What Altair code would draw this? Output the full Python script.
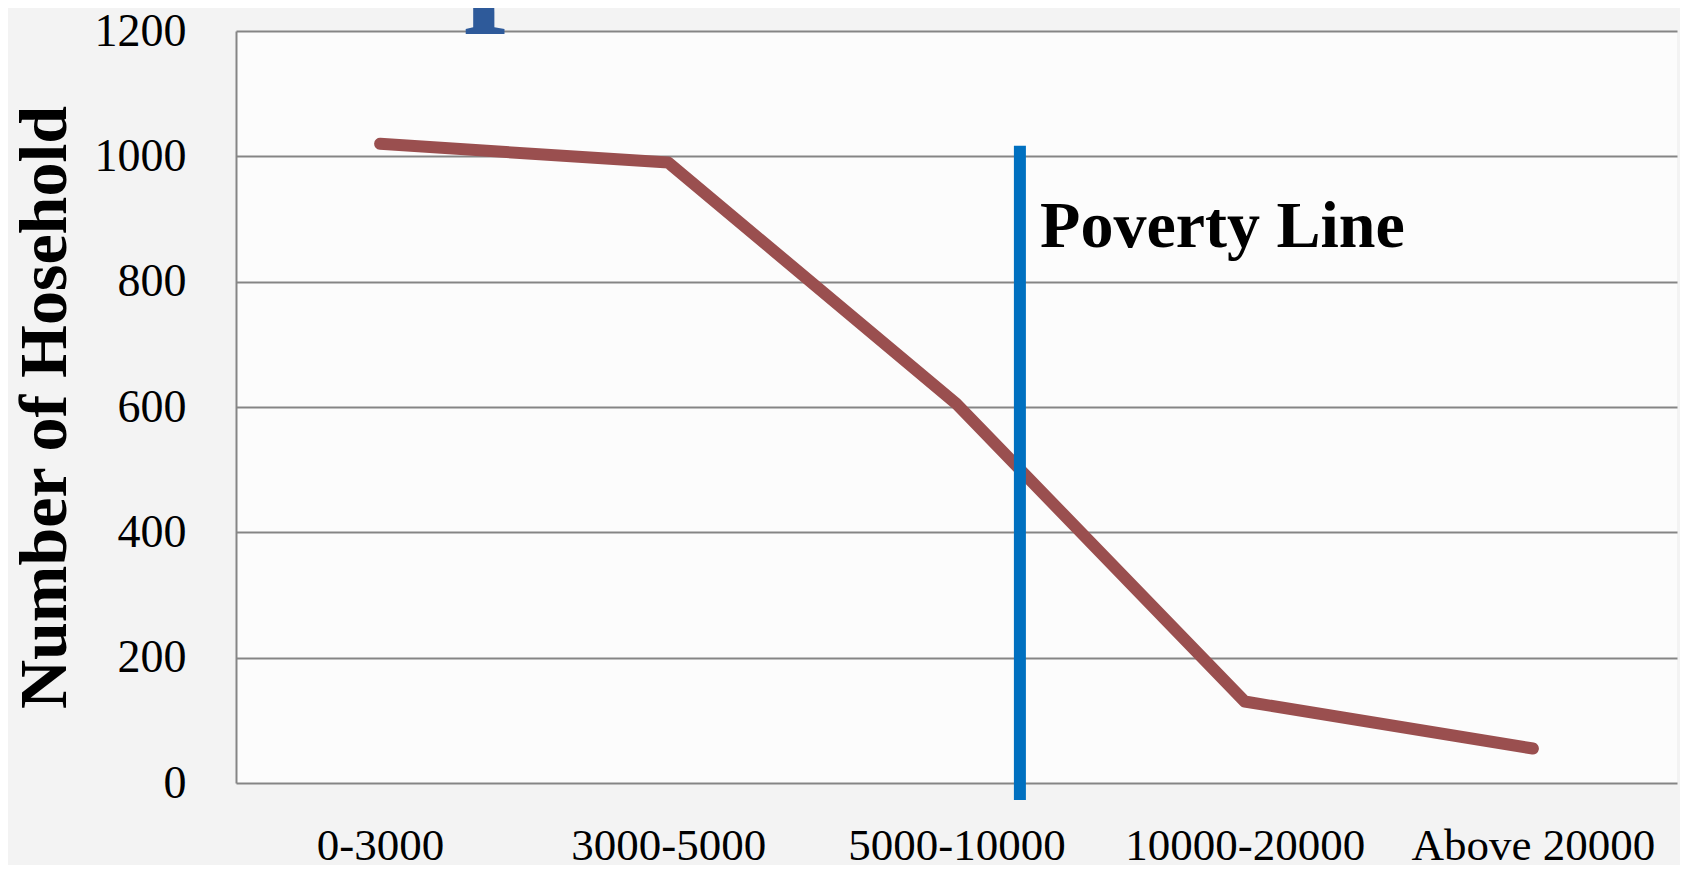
import altair as alt
import pandas as pd

categories = ["0-3000", "3000-5000", "5000-10000", "10000-20000", "Above 20000"]
households = [1020, 990, 605, 130, 55]

poverty_x = 2.22
poverty_y_low = -27
poverty_y_high = 1017
poverty_label = "Poverty Line"
poverty_label_x = 2.29
poverty_label_y = 856

title_text = "per Month"
title_x = 0.29
title_y = 1246

FONT = "Liberation Serif"

df = pd.DataFrame({"idx": list(range(len(categories))), "cat": categories, "n": households})
pov = pd.DataFrame({"x": [poverty_x], "y1": [poverty_y_low], "y2": [poverty_y_high]})
lab = pd.DataFrame({"x": [poverty_label_x], "y": [poverty_label_y], "t": [poverty_label]})
ttl = pd.DataFrame({"x": [title_x], "y": [title_y], "t": [title_text]})

label_expr = "[" + ",".join(f"'{c}'" for c in categories) + "][datum.value]"

xscale = alt.Scale(domain=[-0.5, len(categories) - 0.5], nice=False, zero=False)
yscale = alt.Scale(domain=[0, 1200], nice=False)

xaxis = alt.Axis(
    values=list(range(len(categories))),
    labelExpr=label_expr,
    title=None,
    grid=False,
    ticks=False,
    domain=False,
    labelFont=FONT,
    labelFontSize=45,
    labelColor="black",
    labelPadding=40,
    labelFlush=False,
    labelOverlap=False,
    labelLimit=1000,
)
yaxis = alt.Axis(
    values=[0, 200, 400, 600, 800, 1000, 1200],
    format="d",
    title="Number of Hosehold",
    titleFont=FONT,
    titleFontSize=68,
    titleFontWeight="bold",
    titleColor="black",
    titleX=-191,
    titleY=376,
    titleAngle=270,
    titleAlign="center",
    titleBaseline="middle",
    grid=True,
    gridColor="#858585",
    gridWidth=2,
    ticks=False,
    domain=True,
    domainColor="#858585",
    domainWidth=2,
    labelFont=FONT,
    labelFontSize=46,
    labelColor="black",
    labelPadding=50,
)

line = alt.Chart(df).mark_line(
    color="#9A4F4F", strokeWidth=12, strokeCap="round", strokeJoin="round"
).encode(
    x=alt.X("idx:Q", scale=xscale, axis=xaxis),
    y=alt.Y("n:Q", scale=yscale, axis=yaxis),
)

rule = alt.Chart(pov).mark_rule(color="#0070C0", strokeWidth=12, clip=False).encode(
    x=alt.X("x:Q", scale=xscale),
    y=alt.Y("y1:Q", scale=yscale),
    y2="y2:Q",
)

label = alt.Chart(lab).mark_text(
    font=FONT, fontSize=66, fontWeight="bold", color="black",
    align="left", baseline="alphabetic", clip=False,
).encode(
    x=alt.X("x:Q", scale=xscale),
    y=alt.Y("y:Q", scale=yscale),
    text="t:N",
)

title = alt.Chart(ttl).mark_text(
    font=FONT, fontSize=150, fontWeight="bold", color="#2E5A9A",
    align="left", baseline="alphabetic", clip=False,
).encode(
    x=alt.X("x:Q", scale=xscale),
    y=alt.Y("y:Q", scale=yscale),
    text="t:N",
)

chart = alt.layer(line, rule, label, title).properties(
    width=1441,
    height=752,
    autosize=alt.AutoSizeParams(type="none"),
    padding={"left": 228, "top": 23, "right": 3, "bottom": 82},
    background="#f3f3f3",
).configure_view(stroke=None, fill="#fcfcfc")

chart.save("out.html", embed_options={"renderer": "svg", "actions": False})
